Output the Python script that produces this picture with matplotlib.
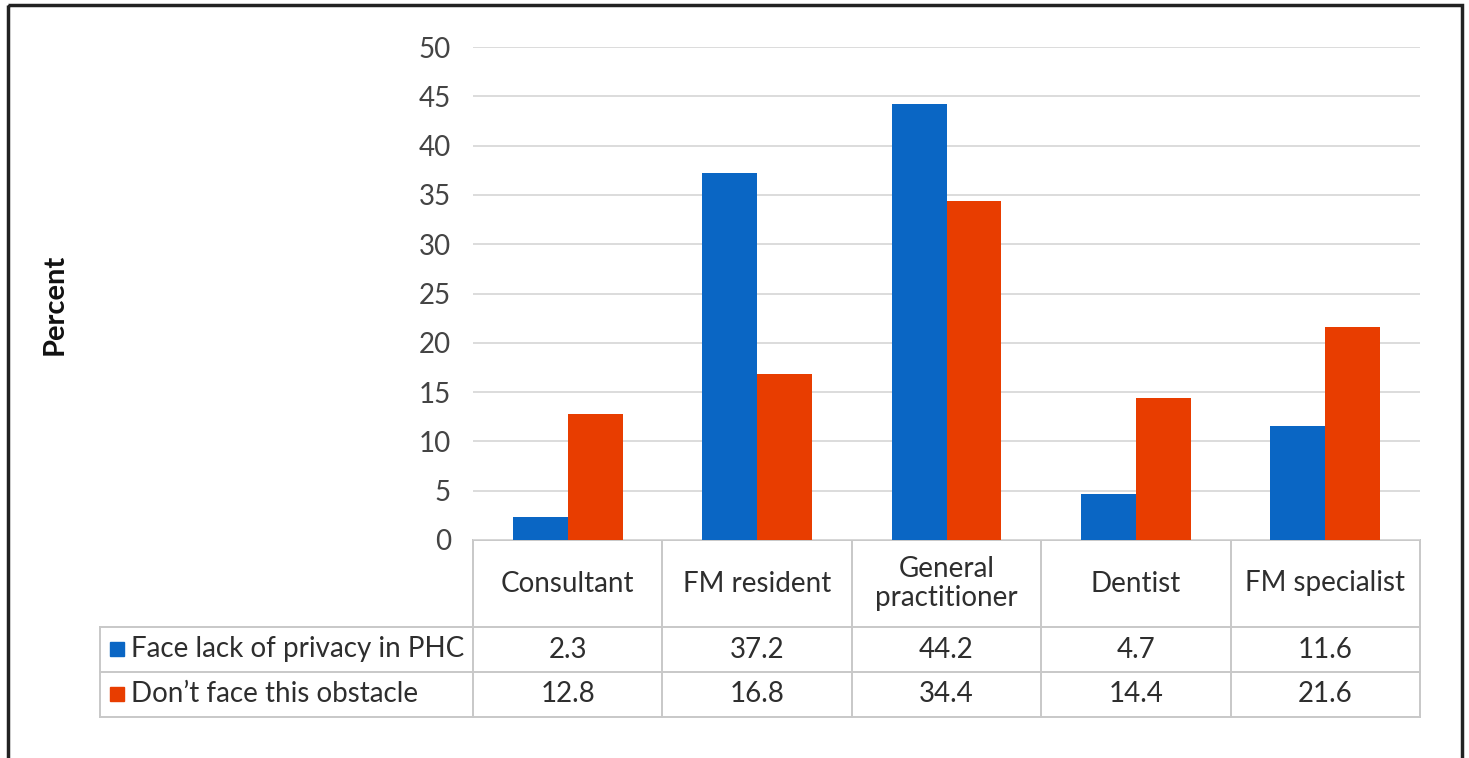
import numpy as np
import matplotlib
matplotlib.use("Agg")
import matplotlib.pyplot as plt
from matplotlib.transforms import blended_transform_factory
from matplotlib.patches import Rectangle

plt.rcParams['font.family'] = ['Lato', 'DejaVu Sans']

# data
categories = ['Consultant', 'FM resident', 'General\npractitioner', 'Dentist', 'FM specialist']
series_names = ['Face lack of privacy in PHC', 'Don\u2019t face this obstacle']
face_lack = [2.3, 37.2, 44.2, 4.7, 11.6]
dont_face = [12.8, 16.8, 34.4, 14.4, 21.6]

blue = '#0A66C4'
orange = '#E83D00'
grid_col = '#D9D9D9'
table_col = '#C8C8C8'
text_col = '#2E2E2E'

W, H = 1469, 758
fig = plt.figure(figsize=(W / 100, H / 100), dpi=100)

# overlay in pixel units, used for layout of table rows and frame
over = fig.add_axes([0, 0, 1, 1])
over.set_xlim(0, W)
over.set_ylim(H, 0)
over.axis('off')

x0, x1, y_top, y_base = 473, 1420, 47, 540
ax = fig.add_axes([x0 / W, 1 - y_base / H, (x1 - x0) / W, (y_base - y_top) / H])

x = np.arange(len(categories))
bw = 0.29
ax.bar(x - bw / 2, face_lack, bw, color=blue, zorder=3)
ax.bar(x + bw / 2, dont_face, bw, color=orange, zorder=3)

fs = 20
ax.set_xlim(-0.5, len(categories) - 0.5)
ax.set_ylim(0, 50)
ax.set_yticks(np.arange(0, 51, 5))
ax.yaxis.grid(True, color=grid_col, linewidth=1.3, zorder=0)
ax.set_xticks([])
ax.tick_params(axis='y', length=0, pad=16, labelsize=fs, labelcolor='#444444')
for s in ax.spines.values():
    s.set_visible(False)
ax.patch.set_alpha(0)

# y label
over.text(55, 304, 'Percent', rotation=90, ha='center', va='center',
          fontsize=21, fontweight='bold', color='#111111')

# data table under the axis
tr = blended_transform_factory(ax.transData, over.transData)
row_h = [y_base, 627, 672, 717]
left = 100
lw = 1.4
n = len(categories)
edges = np.arange(n + 1) - 0.5
for xe in edges:
    over.plot([xe, xe], [row_h[0], row_h[-1]], color=table_col, lw=lw, transform=tr,
              clip_on=False)
over.plot([edges[0], edges[-1]], [row_h[0], row_h[0]], color=table_col, lw=lw,
          transform=tr, clip_on=False)
# row separators start at the label column
x_left_data = ax.transData.inverted().transform(
    over.transData.transform((left, 0)))[0]
for yr in row_h[1:]:
    over.plot([x_left_data, edges[-1]], [yr, yr], color=table_col, lw=lw, transform=tr,
              clip_on=False)
over.plot([x_left_data, x_left_data], [row_h[1], row_h[-1]], color=table_col, lw=lw,
          transform=tr, clip_on=False)

for i, cat in enumerate(categories):
    over.text(i, (row_h[0] + row_h[1]) / 2, cat, transform=tr, ha='center', va='center',
              fontsize=fs, color=text_col, linespacing=1.15)
for r, (vals, name, col) in enumerate([(face_lack, series_names[0], blue),
                                        (dont_face, series_names[1], orange)]):
    yc = (row_h[r + 1] + row_h[r + 2]) / 2
    for i, v in enumerate(vals):
        over.text(i, yc, f'{v:.1f}', transform=tr, ha='center', va='center',
                  fontsize=fs, color=text_col)
    over.add_patch(Rectangle((110, yc - 8), 14, 14, color=col))
    over.text(131, yc, name, ha='left', va='center', fontsize=fs, color=text_col)

# outer frame
over.add_patch(Rectangle((8, 5), 1454, 770, fill=False, edgecolor='#222222',
                         linewidth=2.5, clip_on=False))

fig.savefig('out.png', dpi=100)
